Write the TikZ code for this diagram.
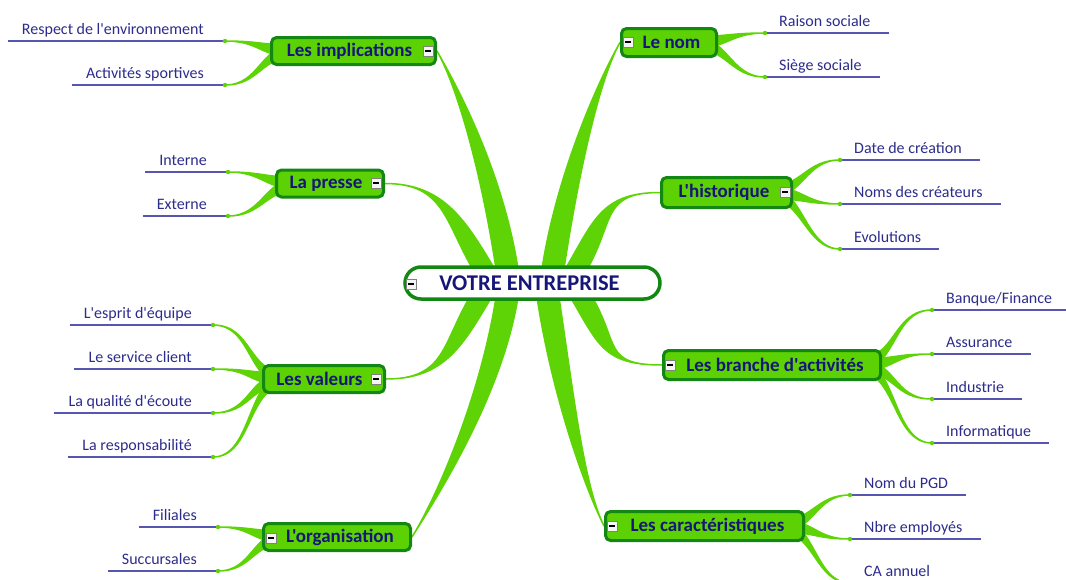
\documentclass[tikz,border=0pt]{standalone}
\usepackage{fontspec}
\setmainfont{Carlito}[Ligatures=TeXOff]
\usetikzlibrary{calc,backgrounds}
\definecolor{limbgreen}{RGB}{94,212,6}
\definecolor{topicfill}{RGB}{92,210,4}
\definecolor{topicedge}{RGB}{18,136,18}
\definecolor{navy}{RGB}{22,22,120}
\definecolor{leafink}{RGB}{44,44,140}
\definecolor{ruleblue}{RGB}{86,86,176}
\tikzset{
  topic/.style={draw=topicedge,line width=3pt,fill=topicfill,rounded corners=5pt,text=navy,
    font=\fontsize{19}{19}\selectfont\bfseries,inner sep=0pt,minimum height=27pt},
  hub/.style={draw=topicedge,line width=3.5pt,fill=white,rounded corners=16pt,text=navy,
    font=\fontsize{22.5}{22.5}\selectfont\bfseries,inner sep=0pt,minimum width=255pt,minimum height=32pt},
  limb/.style={fill=limbgreen,draw=limbgreen,line width=1.5pt,line join=round},
  leaf/.style={text=leafink,font=\fontsize{16}{16}\selectfont,inner sep=0pt},
  leafrule/.style={draw=ruleblue,line width=1.2pt},
  minusbox/.style={draw=gray,fill=gray!8,line width=0.7pt,minimum size=10pt,inner sep=0pt,
    path picture={\draw[black,line width=1.2pt] ([xshift=2pt]path picture bounding box.west)
      -- ([xshift=-2pt]path picture bounding box.east);}}
}
% tapered branch: from, to, out control, in control, half width
\newcommand{\limb}[5]{\filldraw[limb] ($(#1)+(#5)$) .. controls +(#3) and +(#4) .. (#2)
  .. controls +(#4) and +(#3) .. ($(#1)-(#5)$) -- cycle;}
% leaves: name, junction, text
\newcommand{\leafL}[3]{%
  \coordinate (#1) at (#2);
  \node[leaf,anchor=base east] (#1-t) at ($(#1)+(-21,7)$) {#3};
  \draw[leafrule] (#1) -- ($(#1-t.west |- #1)+(-14,0)$);
  \fill[limbgreen] (#1) circle (2.2);}
\newcommand{\leafR}[3]{%
  \coordinate (#1) at (#2);
  \node[leaf,anchor=base west] (#1-t) at ($(#1)+(14,7)$) {#3};
  \draw[leafrule] (#1) -- ($(#1-t.east |- #1)+(18,0)$);
  \fill[limbgreen] (#1) circle (2.2);}
\begin{document}
\begin{tikzpicture}[x=1pt,y=1pt]
  \useasboundingbox (0,-579) rectangle (1066,0);

  % centre and main topics
  \node[hub] (entreprise) at (532.5,-283) {VOTRE ENTREPRISE\hspace*{6pt}};
  \node[minusbox] (m-entreprise) at (411,-284) {};

  \node[topic,minimum width=164pt] (implications) at (353.5,-51) {Les implications\hspace*{8pt}};
  \node[topic,minimum width=107pt] (presse) at (330,-183.5) {La presse\hspace*{8pt}};
  \node[topic,minimum width=121pt] (valeurs) at (324,-379) {Les valeurs\hspace*{9pt}};
  \node[topic,minimum width=147pt] (organisation) at (337,-537) {\hspace*{6pt}L'organisation};
  \node[topic,minimum width=95pt,minimum height=28pt] (nom) at (669,-42.5) {\hspace*{5pt}Le nom};
  \node[topic,minimum width=130pt,minimum height=30pt] (historique) at (726.5,-192.5) {L'historique\hspace*{5pt}};
  \node[topic,minimum width=217pt,minimum height=29pt] (activites) at (772,-365) {\hspace*{6pt}Les branche d'activités};
  \node[topic,minimum width=198pt,minimum height=29pt] (caracteristiques) at (704.5,-526) {\hspace*{6pt}Les caractéristiques};

  \node[minusbox] (m-implications) at (428,-51) {};
  \node[minusbox] (m-presse) at (376,-183) {};
  \node[minusbox] (m-valeurs) at (376,-379) {};
  \node[minusbox] (m-organisation) at (271,-538) {};
  \node[minusbox] (m-nom) at (628,-42) {};
  \node[minusbox] (m-historique) at (785,-192) {};
  \node[minusbox] (m-activites) at (670,-365) {};
  \node[minusbox] (m-caracteristiques) at (612,-526) {};

  % leaves
  \leafL{respect}{225,-41}{Respect de l'environnement}
  \leafL{sport}{225,-85}{Activités sportives}
  \leafL{interne}{228,-172}{Interne}
  \leafL{externe}{228,-216}{Externe}
  \leafL{esprit}{213,-325}{L'esprit d'équipe}
  \leafL{service}{213,-369}{Le service client}
  \leafL{ecoute}{213,-413}{La qualité d'écoute}
  \leafL{respons}{213,-457}{La responsabilité}
  \leafL{filiales}{218,-527}{Filiales}
  \leafL{succursales}{218,-571}{Succursales}

  \leafR{raison}{765,-33}{Raison sociale}
  \leafR{siege}{765,-77}{Siège sociale}
  \leafR{date}{840,-160}{Date de création}
  \leafR{createurs}{840,-204}{Noms des créateurs}
  \leafR{evolutions}{840,-249}{Evolutions}
  \leafR{banque}{932,-310}{Banque/Finance}
  \leafR{assurance}{932,-354}{Assurance}
  \leafR{industrie}{932,-399}{Industrie}
  \leafR{info}{932,-443}{Informatique}
  \leafR{pgd}{850,-495}{Nom du PGD}
  \leafR{employes}{850,-539}{Nbre employés}
  \leafR{ca}{850,-583}{CA annuel}

  % branches
  \coordinate (h-impl) at ($(entreprise)+(-25,11)$);
  \coordinate (h-presse) at ($(entreprise)+(-47,11)$);
  \coordinate (h-nom) at ($(entreprise)+(20,11)$);
  \coordinate (h-hist) at ($(entreprise)+(42,11)$);
  \coordinate (h-val) at ($(entreprise)+(-50,-11)$);
  \coordinate (h-org) at ($(entreprise)+(-25,-11)$);
  \coordinate (h-car) at ($(entreprise)+(15,-11)$);
  \coordinate (h-act) at ($(entreprise)+(47,-11)$);
  \coordinate (k-impl) at ($(implications.west)+(25,0)$);
  \coordinate (k-presse) at ($(presse.west)+(25,0)$);
  \coordinate (k-val) at ($(valeurs.west)+(25,0)$);
  \coordinate (k-org) at ($(organisation.west)+(25,0)$);
  \coordinate (k-nom) at ($(nom.east)+(-25,0)$);
  \coordinate (k-hist) at ($(historique.east)+(-25,0)$);
  \coordinate (k-act) at ($(activites.east)+(-25,0)$);
  \coordinate (k-car) at ($(caracteristiques.east)+(-25,0)$);
  \begin{scope}[on background layer]
    \limb{h-impl}{implications.east}{-15,100}{20,-35}{11,0}
    \limb{h-presse}{presse.east}{-30,50}{60,0}{11,0}
    \limb{h-nom}{nom.west}{15,100}{-20,-35}{11,0}
    \limb{h-hist}{historique.west}{30,50}{-60,0}{11,0}
    \limb{h-val}{valeurs.east}{-30,-50}{60,0}{11,0}
    \limb{h-org}{organisation.east}{-15,-100}{25,40}{11,0}
    \limb{h-car}{caracteristiques.west}{15,-100}{-20,40}{11,0}
    \limb{h-act}{activites.west}{30,-50}{-60,0}{11,0}

    \limb{k-impl}{respect}{-35,0}{35,0}{0,6}
    \limb{k-impl}{sport}{-35,0}{35,0}{0,6}
    \limb{k-presse}{interne}{-35,0}{35,0}{0,6}
    \limb{k-presse}{externe}{-35,0}{35,0}{0,6}
    \limb{k-val}{esprit}{-40,0}{40,0}{0,6}
    \limb{k-val}{service}{-40,0}{40,0}{0,6}
    \limb{k-val}{ecoute}{-40,0}{40,0}{0,6}
    \limb{k-val}{respons}{-40,0}{40,0}{0,6}
    \limb{k-org}{filiales}{-35,0}{35,0}{0,6}
    \limb{k-org}{succursales}{-35,0}{35,0}{0,6}
    \limb{k-nom}{raison}{35,0}{-35,0}{0,6}
    \limb{k-nom}{siege}{35,0}{-35,0}{0,6}
    \limb{k-hist}{date}{35,0}{-35,0}{0,6}
    \limb{k-hist}{createurs}{35,0}{-35,0}{0,6}
    \limb{k-hist}{evolutions}{35,0}{-35,0}{0,6}
    \limb{k-act}{banque}{40,0}{-40,0}{0,6}
    \limb{k-act}{assurance}{40,0}{-40,0}{0,6}
    \limb{k-act}{industrie}{40,0}{-40,0}{0,6}
    \limb{k-act}{info}{40,0}{-40,0}{0,6}
    \limb{k-car}{pgd}{35,0}{-35,0}{0,6}
    \limb{k-car}{employes}{35,0}{-35,0}{0,6}
    \limb{k-car}{ca}{35,0}{-35,0}{0,6}
  \end{scope}
\end{tikzpicture}
\end{document}
